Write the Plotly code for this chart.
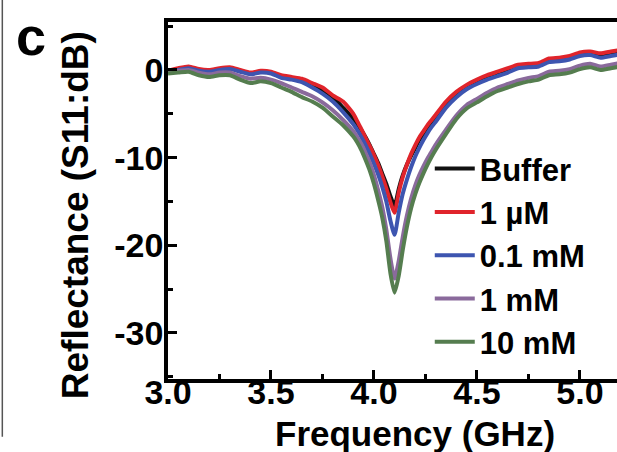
import plotly.graph_objects as go

freq = [3.00, 3.05, 3.10, 3.15, 3.20, 3.25, 3.30, 3.35, 3.40, 3.45, 3.50, 3.55, 3.60, 3.65, 3.70,
        3.75, 3.80, 3.85, 3.90,
        3.92, 3.94, 3.96, 3.98, 4.00, 4.02, 4.04, 4.06, 4.08, 4.10, 4.12, 4.14, 4.16, 4.18, 4.20,
        4.22, 4.24, 4.26, 4.28, 4.30,
        4.35, 4.40, 4.45, 4.50, 4.55, 4.60, 4.65, 4.70, 4.75, 4.80, 4.85, 4.90, 4.95, 5.00, 5.05,
        5.10, 5.15, 5.20]

buffer_db = [-0.2, 0.1, 0.3, 0.0, -0.1, 0.1, 0.2, -0.1, -0.4, -0.2, -0.3, -0.8, -0.9, -1.2, -1.7,
             -2.3, -3.1, -4.3, -5.6,
             -6.2, -6.9, -7.7, -8.6, -9.6, -10.6, -11.8, -13.0, -14.4, -15.5, -13.6, -12.0, -10.8, -9.8, -8.9,
             -8.0, -7.3, -6.6, -6.0, -5.4,
             -3.9, -2.8, -2.0, -1.4, -0.9, -0.5, -0.1, 0.4, 0.5, 0.6, 1.1, 1.2, 1.4, 1.8, 1.9,
             1.7, 1.9, 2.1]

um1_db = [-0.1, 0.2, 0.4, 0.1, 0.0, 0.2, 0.3, 0.0, -0.3, -0.1, -0.2, -0.6, -0.8, -1.0, -1.5,
          -2.0, -2.9, -3.6, -5.0,
          -5.9, -6.8, -7.8, -8.7, -9.7, -10.8, -12.1, -13.5, -15.1, -16.3, -14.0, -12.2, -10.8, -9.6, -8.6,
          -7.7, -7.0, -6.3, -5.7, -5.1,
          -3.6, -2.5, -1.7, -1.1, -0.6, -0.2, 0.2, 0.6, 0.7, 0.8, 1.3, 1.4, 1.6, 2.0, 2.1,
          1.9, 2.1, 2.3]

mm01_db = [-0.3, 0.0, 0.2, -0.1, -0.2, 0.0, 0.1, -0.2, -0.5, -0.3, -0.4, -0.9, -1.1, -1.4, -2.0,
           -2.7, -3.6, -4.8, -6.2,
           -6.9, -7.7, -8.6, -9.6, -10.7, -11.9, -13.3, -15.0, -17.2, -18.8, -16.3, -14.1, -12.5, -11.1, -9.9,
           -8.9, -8.0, -7.2, -6.5, -5.9,
           -4.3, -3.1, -2.2, -1.6, -1.1, -0.7, -0.3, 0.2, 0.3, 0.4, 0.9, 1.0, 1.2, 1.6, 1.7,
           1.4, 1.6, 1.8]

mm1_db = [-0.2, -0.1, 0.0, -0.3, -0.5, -0.3, -0.3, -0.7, -1.0, -0.9, -1.1, -1.5, -2.0, -2.5, -3.0,
          -3.7, -4.6, -5.7, -7.0,
          -7.7, -8.5, -9.5, -10.6, -12.0, -13.7, -15.6, -18.2, -21.5, -23.8, -21.8, -19.0, -16.6, -14.7, -13.2,
          -12.0, -11.0, -10.1, -9.3, -8.5,
          -6.8, -5.2, -4.0, -3.3, -2.6, -2.0, -1.6, -1.2, -0.9, -0.7, -0.2, -0.1, 0.1, 0.5, 0.7,
          0.4, 0.6, 0.8]

mm10_db = [-0.4, -0.3, -0.2, -0.6, -0.8, -0.6, -0.6, -1.1, -1.5, -1.3, -1.5, -2.0, -2.5, -3.1, -3.6,
           -4.3, -5.3, -6.3, -7.6,
           -8.3, -9.2, -10.3, -11.5, -13.0, -14.8, -16.8, -19.5, -23.2, -25.4, -23.5, -20.5, -17.9, -15.8, -14.2,
           -12.9, -11.8, -10.8, -9.9, -9.1,
           -7.3, -5.6, -4.4, -3.7, -3.0, -2.4, -2.0, -1.6, -1.3, -1.1, -0.6, -0.5, -0.3, 0.1, 0.3,
           0.0, 0.2, 0.4]

series_names = ["Buffer", "1 µM", "0.1 mM", "1 mM", "10 mM"]
series_values = [buffer_db, um1_db, mm01_db, mm1_db, mm10_db]
series_colors = ["#111111", "#e0242b", "#3d55b0", "#8a6a9c", "#557d4f"]

x_ticks = [3.0, 3.5, 4.0, 4.5, 5.0]
x_tick_labels = ["3.0", "3.5", "4.0", "4.5", "5.0"]
y_ticks = [-30, -20, -10, 0]
y_tick_labels = ["-30", "-20", "-10", "0"]

FONT = "Liberation Sans, Arial, Helvetica, sans-serif"

fig = go.Figure()
for name, vals, col in zip(series_names, series_values, series_colors):
    fig.add_trace(go.Scatter(
        x=freq, y=vals, name=name, mode="lines",
        line=dict(color=col, width=4, shape="spline", smoothing=0.6),
    ))

axis_common = dict(
    showgrid=False, zeroline=False, showline=True, linecolor="black", linewidth=3.5,
    ticks="inside", ticklen=9, tickwidth=2.5, tickcolor="black",
    tickfont=dict(family=FONT, size=34, color="black", weight="bold"),
)

fig.update_layout(
    width=617, height=452,
    margin=dict(l=168, r=0, t=22, b=73),
    paper_bgcolor="white", plot_bgcolor="white",
    showlegend=True,
    legend=dict(
        x=0.583, xanchor="left", y=0.664, yanchor="top",
        bgcolor="rgba(0,0,0,0)", borderwidth=0,
        font=dict(family=FONT, size=31, color="black", weight="bold"),
        itemwidth=40, tracegroupgap=0,
    ),
    xaxis=dict(
        range=[3.0, 5.18], tickvals=x_ticks, ticktext=x_tick_labels, mirror=True,
        ticklabelstandoff=-20,
        minor=dict(ticks="inside", ticklen=5, tickwidth=2.5, tickcolor="black", dtick=0.25),
        **axis_common,
    ),
    yaxis=dict(
        range=[-35.25, 5.47], tickvals=y_ticks, ticktext=y_tick_labels,
        ticklabelstandoff=-6,
        minor=dict(ticks="inside", ticklen=5, tickwidth=2.5, tickcolor="black", dtick=5),
        **axis_common,
    ),
    annotations=[
        dict(text="Frequency (GHz)", xref="paper", yref="paper", x=0.55, y=-0.154,
             xanchor="center", yanchor="middle", showarrow=False,
             font=dict(family=FONT, size=35, color="black", weight="bold")),
        dict(text="Reflectance (S11:dB)", xref="paper", yref="paper", x=-0.207, y=0.459,
             xanchor="center", yanchor="middle", textangle=-90, showarrow=False,
             font=dict(family=FONT, size=37, color="black", weight="bold")),
        dict(text="c", xref="paper", yref="paper", x=-0.305, y=0.962,
             xanchor="center", yanchor="middle", showarrow=False,
             font=dict(family=FONT, size=54, color="black", weight="bold")),
    ],
    shapes=[
        dict(type="line", xref="paper", yref="paper", x0=-0.369, x1=-0.369, y0=-0.162, y1=1.07,
             line=dict(color="#555555", width=1.5)),
    ],
)

fig.write_html("out.html", config={"displayModeBar": False},
               post_script="document.body.style.margin='0';document.body.style.overflow='hidden';")
